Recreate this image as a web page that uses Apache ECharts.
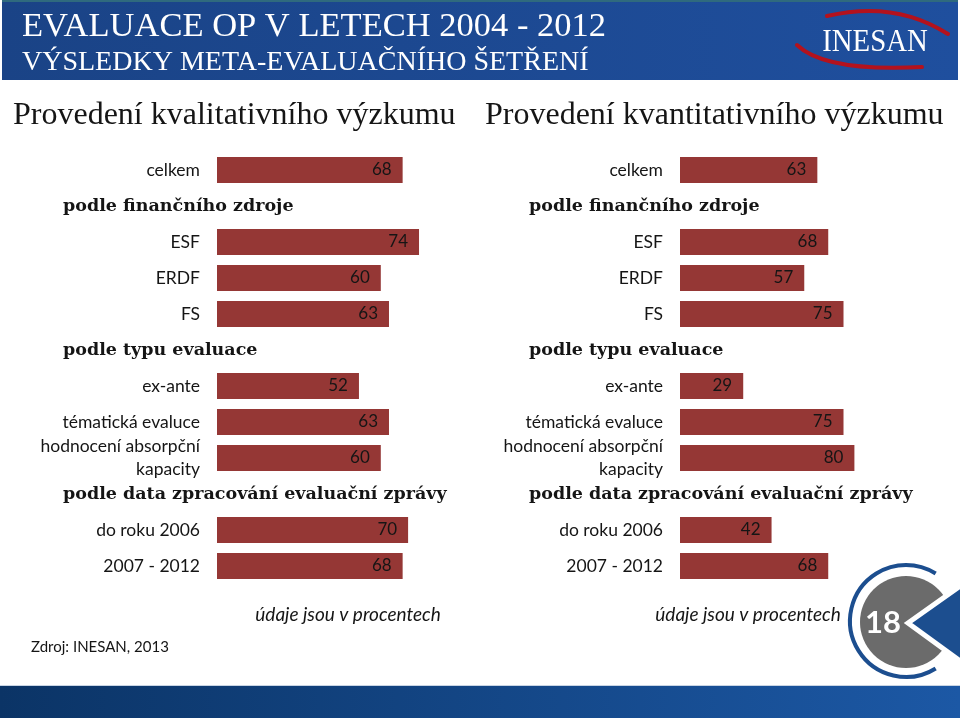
<!DOCTYPE html>
<html>
<head>
<meta charset="utf-8">
<title>Evaluace OP v letech 2004 - 2012</title>
<script src="https://cdn.jsdelivr.net/npm/echarts@6/dist/echarts.min.js"></script>
<style>
  html, body { margin: 0; padding: 0; background: #fff; }
  #chart { width: 960px; height: 718px; }
</style>
</head>
<body>
<div id="chart"></div>
<script>
// rows shared by both charts, heading rows carry no bar
const rowLabels = ['celkem', '', 'ESF', 'ERDF', 'FS', '', 'ex-ante', 'tématická evaluce', 'hodnocení absorpční\nkapacity', '', 'do roku 2006', '2007 - 2012']
const headingLabels = ['', 'podle finančního zdroje', '', '', '', 'podle typu evaluace', '', '', '', 'podle data zpracování evaluační zprávy', '', '']
const kvalitativni = [68, null, 74, 60, 63, null, 52, 63, 60, null, 70, 68]
const kvantitativni = [63, null, 68, 57, 75, null, 29, 75, 80, null, 42, 68]

const barColor = '#953735'
const textColor = '#151515'
const blue = '#1c4e8f'

function categoryAxes(gridIndex, labelMargin, headingMargin) {
  const base = {
    type: 'category',
    gridIndex: gridIndex,
    inverse: true,
    position: 'left',
    axisLine: { show: false },
    axisTick: { show: false },
    splitLine: { show: false }
  }
  return [
    Object.assign({}, base, {
      data: rowLabels,
      axisLabel: {
        interval: 0,
        margin: labelMargin,
        color: textColor,
        fontFamily: 'Lato',
        fontSize: 17.5,
        lineHeight: 23
      }
    }),
    Object.assign({}, base, {
      data: headingLabels,
      axisLabel: {
        interval: 0,
        margin: headingMargin,
        align: 'left',
        padding: [6, 0, 0, 0],
        color: textColor,
        fontFamily: 'DejaVu Serif',
        fontWeight: 'bold',
        fontSize: 17.5
      }
    })
  ]
}

function valueAxis(gridIndex) {
  return { type: 'value', gridIndex: gridIndex, min: 0, max: 100, show: false }
}

function barSeries(data, axisIndex) {
  return {
    type: 'bar',
    xAxisIndex: axisIndex,
    yAxisIndex: axisIndex * 2,
    data: data,
    barWidth: 26,
    itemStyle: { color: barColor },
    label: {
      show: true,
      position: 'insideRight',
      distance: 11,
      color: textColor,
      fontFamily: 'Lato',
      fontSize: 17
    },
    silent: true
  }
}

function text(x, y, str, style, extra) {
  return Object.assign({
    type: 'text',
    x: x,
    y: y,
    silent: true,
    style: Object.assign({ text: str, verticalAlign: 'middle', fill: textColor }, style)
  }, extra || {})
}

const chart = echarts.init(document.getElementById('chart'))

chart.setOption({
  backgroundColor: '#ffffff',
  animation: false,
  grid: [
    { left: 217, top: 152, width: 273, height: 432, outerBoundsMode: 'none' },
    { left: 680, top: 152, width: 218, height: 432, outerBoundsMode: 'none' }
  ],
  xAxis: [valueAxis(0), valueAxis(1)],
  yAxis: categoryAxes(0, 17, 154).concat(categoryAxes(1, 17, 151)),
  series: [barSeries(kvalitativni, 0), barSeries(kvantitativni, 1)],
  graphic: [
    // header band
    {
      type: 'rect',
      shape: { x: 2, y: 0, width: 956, height: 80 },
      style: {
        fill: new echarts.graphic.LinearGradient(0, 0, 1, 0, [
          { offset: 0, color: '#1a4386' },
          { offset: 1, color: '#1f4f9e' }
        ])
      },
      silent: true
    },
    { type: 'rect', shape: { x: 2, y: 0, width: 956, height: 2 }, style: { fill: '#2f6a7e' }, silent: true },
    text(22, 27, 'EVALUACE OP V LETECH 2004 - 2012', { fill: '#ffffff', font: '34px "Liberation Serif"' }, { scaleX: 1.015 }),
    text(22, 63, 'VÝSLEDKY META-EVALUAČNÍHO ŠETŘENÍ', { fill: '#ffffff', font: '28px "Liberation Serif"' }),
    // logo swooshes
    {
      type: 'bezierCurve',
      shape: { x1: 827, y1: 16, x2: 948, y2: 34, cpx1: 895, cpy1: 0 },
      style: { stroke: '#b3121d', lineWidth: 4, fill: null, lineCap: 'round' },
      silent: true
    },
    {
      type: 'bezierCurve',
      shape: { x1: 797, y1: 45, x2: 922, y2: 67, cpx1: 825, cpy1: 72 },
      style: { stroke: '#b3121d', lineWidth: 4, fill: null, lineCap: 'round' },
      silent: true
    },
    text(875, 43, 'INESAN', { fill: '#ffffff', font: '32px "Liberation Serif"', align: 'center' }, { scaleX: 0.9 }),
    // section titles
    text(13, 116, 'Provedení kvalitativního výzkumu', { font: '32px "Liberation Serif"' }),
    text(485, 116, 'Provedení kvantitativního výzkumu', { font: '32px "Liberation Serif"' }),
    // notes
    text(348, 615, 'údaje jsou v procentech', { font: 'italic 19px Lato', align: 'center' }),
    text(748, 615, 'údaje jsou v procentech', { font: 'italic 19px Lato', align: 'center' }),
    text(31, 647, 'Zdroj: INESAN, 2013', { font: '15px Lato' }),
    // page badge
    {
      type: 'arc',
      shape: { cx: 906, cy: 621, r: 56, startAngle: 58 * Math.PI / 180, endAngle: 302 * Math.PI / 180, clockwise: true },
      style: { stroke: blue, lineWidth: 4, fill: null },
      silent: true
    },
    { type: 'circle', shape: { cx: 906, cy: 622, r: 46 }, style: { fill: '#6b6b6b' }, silent: true },
    {
      type: 'polygon',
      shape: { points: [[908, 623], [963, 584], [963, 663]] },
      style: { fill: blue, stroke: '#ffffff', lineWidth: 5 },
      silent: true
    },
    text(883, 623, '18', { fill: '#ffffff', font: 'bold 31px Lato', align: 'center' }),
    // footer band
    {
      type: 'rect',
      shape: { x: 0, y: 685, width: 960, height: 33 },
      style: {
        fill: new echarts.graphic.LinearGradient(0, 0, 1, 0, [
          { offset: 0, color: '#0b3466' },
          { offset: 1, color: '#1c58a5' }
        ])
      },
      silent: true
    },
    { type: 'rect', shape: { x: 0, y: 685, width: 960, height: 1 }, style: { fill: '#c9d5e4' }, silent: true }
  ]
})
</script>
</body>
</html>
